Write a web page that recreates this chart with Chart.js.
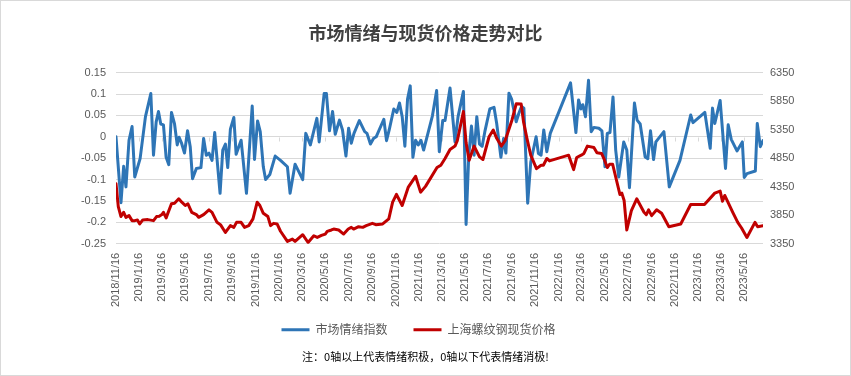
<!DOCTYPE html>
<html>
<head>
<meta charset="utf-8">
<script src="https://cdn.jsdelivr.net/npm/chart.js@4.4.0/dist/chart.umd.min.js"></script>
<style>
html,body{margin:0;padding:0;background:#fff;}
#wrap{width:851px;height:376px;position:relative;}
</style>
</head>
<body>
<div id="wrap"><canvas id="c" width="851" height="376"></canvas></div>
<script>
const titleText = '市场情绪与现货价格走势对比';
const noteText = '注：0轴以上代表情绪积极，0轴以下代表情绪消极!';
const seriesNames = ['市场情绪指数', '上海螺纹钢现货价格'];

const tickLabels = ['2018/11/16','2019/1/16','2019/3/16','2019/5/16','2019/7/16','2019/9/16','2019/11/16',
  '2020/1/16','2020/3/16','2020/5/16','2020/7/16','2020/9/16','2020/11/16',
  '2021/1/16','2021/3/16','2021/5/16','2021/7/16','2021/9/16','2021/11/16',
  '2022/1/16','2022/3/16','2022/5/16','2022/7/16','2022/9/16','2022/11/16',
  '2023/1/16','2023/3/16','2023/5/16'];
const leftTicks = [-0.25,-0.2,-0.15,-0.1,-0.05,0,0.05,0.1,0.15];
const rightTicks = [3350,3850,4350,4850,5350,5850,6350];

const blueDates = ['2018/11/16','2018/11/29','2018/12/6','2018/12/12','2018/12/20','2018/12/28','2019/1/4','2019/1/18','2019/2/1','2019/2/15',
  '2019/2/22','2019/3/1','2019/3/7','2019/3/13','2019/3/20','2019/3/27','2019/4/3','2019/4/10','2019/4/18','2019/4/25',
  '2019/4/30','2019/5/6','2019/5/14','2019/5/22','2019/5/29','2019/6/4','2019/6/14','2019/6/26','2019/7/3','2019/7/10',
  '2019/7/17','2019/7/25','2019/8/1','2019/8/15','2019/8/22','2019/8/29','2019/9/4','2019/9/11','2019/9/20','2019/9/26',
  '2019/10/9','2019/10/23','2019/11/7','2019/11/13','2019/11/21','2019/11/28','2019/12/6','2019/12/12','2019/12/23','2020/1/6',
  '2020/1/20','2020/2/7','2020/2/14','2020/2/27','2020/3/18','2020/3/26','2020/4/7','2020/4/24','2020/4/30','2020/5/13',
  '2020/5/19','2020/5/27','2020/6/4','2020/6/11','2020/6/22','2020/6/30','2020/7/9','2020/7/16','2020/7/23','2020/7/30',
  '2020/8/13','2020/8/27','2020/9/2','2020/9/11','2020/9/19','2020/9/26','2020/10/16','2020/10/23','2020/10/30','2020/11/11',
  '2020/11/19','2020/11/26','2020/12/3','2020/12/10','2020/12/17','2020/12/24','2020/12/31','2021/1/7','2021/1/14','2021/1/21',
  '2021/1/28','2021/2/20','2021/3/3','2021/3/10','2021/3/19','2021/3/25','2021/4/7','2021/4/20','2021/4/28','2021/5/12',
  '2021/5/19','2021/5/26','2021/6/2','2021/6/9','2021/6/16','2021/6/23','2021/6/30','2021/7/7','2021/7/20','2021/7/31',
  '2021/8/7','2021/8/18','2021/8/25','2021/8/31','2021/9/8','2021/9/15','2021/9/27','2021/10/4','2021/10/11','2021/10/17',
  '2021/10/27','2021/11/4','2021/11/18','2021/11/24','2021/12/1','2021/12/8','2021/12/16','2021/12/25','2022/2/16','2022/3/2',
  '2022/3/9','2022/3/15','2022/3/20','2022/3/27','2022/4/4','2022/4/11','2022/4/18','2022/5/1','2022/5/9','2022/5/17',
  '2022/5/23','2022/5/30','2022/6/7','2022/6/14','2022/6/22','2022/7/5','2022/7/13','2022/7/20','2022/8/2','2022/8/9',
  '2022/8/17','2022/8/30','2022/9/6','2022/9/13','2022/9/21','2022/9/27','2022/10/18','2022/11/1','2022/11/29','2022/12/27',
  '2023/1/2','2023/2/2','2023/2/16','2023/2/22','2023/2/28','2023/3/14','2023/3/28','2023/4/4','2023/4/12','2023/4/27',
  '2023/5/11','2023/5/16','2023/5/23','2023/6/14','2023/6/19','2023/6/27','2023/7/4'];
const blueValues = [0.000,-0.154,-0.069,-0.117,-0.008,0.024,-0.094,-0.051,0.047,0.101,
  -0.043,0.035,0.059,0.030,0.028,-0.048,-0.065,0.057,0.030,-0.019,
  -0.001,-0.014,-0.038,0.014,-0.023,-0.098,-0.074,-0.072,-0.004,-0.043,
  -0.038,-0.055,0.010,-0.132,-0.031,-0.017,-0.072,0.018,0.045,-0.041,
  -0.008,-0.132,0.072,-0.053,0.037,0.012,-0.070,-0.100,-0.088,-0.045,
  -0.055,-0.070,-0.132,-0.064,-0.100,0.008,-0.019,0.043,-0.012,0.101,
  0.101,0.014,0.059,0.006,0.039,0.016,-0.045,0.020,-0.015,0.008,
  0.038,0.012,0.008,-0.017,-0.004,0.000,0.041,-0.009,0.016,0.065,
  0.057,0.079,0.047,-0.022,0.088,0.119,-0.048,-0.008,-0.019,-0.008,
  -0.031,0.049,0.108,-0.035,0.038,0.038,0.114,-0.012,0.047,0.106,
  -0.205,-0.043,0.025,-0.043,0.047,-0.017,-0.022,0.012,0.065,0.069,
  0.031,-0.048,-0.004,-0.038,0.102,0.088,0.035,0.055,0.071,0.067,
  -0.155,-0.059,0.000,-0.039,-0.043,0.016,-0.035,0.008,0.126,0.010,
  0.086,0.065,0.075,0.047,0.132,0.012,0.022,0.020,0.014,-0.070,
  0.008,0.010,0.093,-0.031,-0.094,-0.012,-0.031,-0.119,0.079,0.039,
  0.030,-0.047,-0.051,0.014,-0.053,-0.012,0.012,-0.117,-0.055,0.051,
  0.033,0.057,-0.027,0.067,0.031,0.085,-0.074,0.028,-0.006,-0.033,
  -0.012,-0.095,-0.086,-0.080,0.031,-0.023,-0.009];

const redDates = ['2018/11/16','2018/11/22','2018/11/29','2018/12/6','2018/12/12','2018/12/20','2018/12/28','2019/1/4','2019/1/11','2019/1/17',
  '2019/1/25','2019/2/7','2019/2/22','2019/3/2','2019/3/9','2019/3/16','2019/3/20','2019/3/27','2019/4/10','2019/4/18',
  '2019/4/29','2019/5/7','2019/5/16','2019/5/23','2019/6/2','2019/6/14','2019/6/20','2019/7/3','2019/7/17','2019/7/25',
  '2019/8/7','2019/8/16','2019/8/29','2019/9/11','2019/9/20','2019/9/27','2019/10/9','2019/10/18','2019/10/29','2019/11/9',
  '2019/11/20','2019/11/27','2019/12/6','2019/12/18','2019/12/25','2020/1/2','2020/1/11','2020/1/20','2020/2/7','2020/2/20',
  '2020/2/27','2020/3/18','2020/4/1','2020/4/16','2020/4/25','2020/5/6','2020/5/16','2020/5/21','2020/6/1','2020/6/7',
  '2020/6/20','2020/7/3','2020/7/15','2020/7/23','2020/7/29','2020/8/11','2020/8/22','2020/8/31','2020/9/16','2020/9/25',
  '2020/10/13','2020/10/29','2020/11/8','2020/11/18','2020/12/3','2020/12/19','2021/1/7','2021/1/20','2021/2/2','2021/3/4',
  '2021/3/14','2021/3/25','2021/4/7','2021/4/20','2021/4/26','2021/5/12','2021/5/19','2021/5/27','2021/6/9','2021/6/23',
  '2021/7/2','2021/7/18','2021/7/29','2021/8/7','2021/8/19','2021/8/29','2021/9/16','2021/9/27','2021/10/10','2021/10/16',
  '2021/10/25','2021/11/4','2021/11/19','2021/12/1','2021/12/7','2021/12/16','2021/12/23','2022/2/11','2022/2/24','2022/3/4',
  '2022/3/16','2022/3/23','2022/4/1','2022/4/18','2022/4/26','2022/5/8','2022/5/16','2022/5/23','2022/5/29','2022/6/6',
  '2022/6/25','2022/6/30','2022/7/6','2022/7/13','2022/7/25','2022/8/8','2022/8/27','2022/9/2','2022/9/8','2022/9/16',
  '2022/9/29','2022/10/12','2022/10/31','2022/12/1','2022/12/27','2023/2/1','2023/2/28','2023/3/14','2023/3/20','2023/3/26',
  '2023/4/16','2023/4/29','2023/5/9','2023/5/23','2023/6/13','2023/6/20','2023/7/4'];
const redValues = [4404,4003,3827,3902,3814,3844,3756,3756,3768,3698,
  3768,3774,3756,3827,3832,3862,3902,3804,4051,4061,
  4139,4079,4021,4051,3902,3862,3814,3862,3945,3902,
  3726,3685,3549,3668,3638,3726,3726,3638,3668,3786,
  4079,4021,3885,3827,3668,3708,3698,3570,3391,3433,
  3391,3509,3373,3491,3461,3496,3521,3567,3592,3609,
  3592,3521,3609,3638,3609,3650,3638,3668,3708,3685,
  3698,3786,4079,4215,4021,4344,4533,4255,4356,4686,
  4727,4845,5004,5062,5156,5667,5120,4815,5062,4873,
  4827,5226,5344,5198,5062,5156,5521,5803,5798,5491,
  5198,4903,4668,4727,4727,4845,4803,4903,4650,4862,
  4903,4933,5062,5039,4944,4933,4815,4686,4744,4744,
  4215,4238,4109,3592,3932,4139,3902,3862,3945,3844,
  3945,3885,3650,3698,4038,4038,4238,4273,4097,4197,
  3902,3726,3627,3461,3726,3650,3668];

function toDay(s){ const p = s.split('/').map(Number); return Date.UTC(p[0], p[1]-1, p[2]) / 86400000; }
function pts(dates, vals){ const n = Math.min(dates.length, vals.length); const out = []; for (let i=0;i<n;i++) out.push({x: toDay(dates[i]), y: vals[i]}); return out; }
const tickDays = tickLabels.map(toDay);

const CJK = '"Noto Sans CJK SC", "Microsoft YaHei", sans-serif';
const NUM = '"Liberation Sans", Arial, sans-serif';
const GRID = '#d9d9d9';
const TXT = '#595959';

const zeroTicks = {
  id: 'zeroTicks',
  beforeDatasetsDraw(chart){
    const xs = chart.scales.x, ys = chart.scales.y, ctx = chart.ctx;
    const y0 = Math.round(ys.getPixelForValue(0)) + 0.5;
    ctx.save(); ctx.strokeStyle = GRID; ctx.lineWidth = 1; ctx.beginPath();
    tickDays.forEach(d => { const x = Math.round(xs.getPixelForValue(d)) + 0.5; ctx.moveTo(x, y0); ctx.lineTo(x, y0 + 4); });
    ctx.stroke(); ctx.restore();
  }
};
const frame = {
  id: 'frame',
  afterLayout(chart){ const lg = chart.legend; if (lg) { lg.left -= 7; lg.right -= 7; } },
  afterDraw(chart){ const ctx = chart.ctx; ctx.save(); ctx.strokeStyle = GRID; ctx.lineWidth = 1; ctx.strokeRect(0.5, 0.5, chart.width - 1, chart.height - 1); ctx.restore(); }
};

new Chart(document.getElementById('c'), {
  type: 'line',
  data: {
    datasets: [
      { label: seriesNames[0], data: pts(blueDates, blueValues), yAxisID: 'y', borderColor: '#2E75B6', backgroundColor: '#2E75B6', borderWidth: 3, pointRadius: 0, tension: 0, borderJoinStyle: 'round', borderCapStyle: 'round', order: 1 },
      { label: seriesNames[1], data: pts(redDates, redValues), yAxisID: 'y2', borderColor: '#C00000', backgroundColor: '#C00000', borderWidth: 3, pointRadius: 0, tension: 0, borderJoinStyle: 'round', borderCapStyle: 'round', order: 0 }
    ]
  },
  options: {
    responsive: false, animation: false, devicePixelRatio: 1,
    layout: { padding: { left: 0, right: 0, top: 0, bottom: 0 } },
    plugins: {
      tooltip: { enabled: false },
      title: { display: true, text: titleText, color: '#404040', font: { family: CJK, size: 18, weight: 'bold' }, padding: { top: 22, bottom: 29 } },
      subtitle: { display: true, position: 'bottom', text: noteText, color: '#000', font: { family: CJK, size: 11, weight: 'normal' }, padding: { top: 4, bottom: 13 } },
      legend: {
        position: 'bottom',
        labels: {
          boxWidth: 28, boxHeight: 3, padding: 26, color: TXT, font: { family: CJK, size: 12 },
          sort: (a, b) => a.datasetIndex - b.datasetIndex,
          generateLabels: chart => Chart.defaults.plugins.legend.labels.generateLabels(chart).map(l => Object.assign(l, { lineWidth: 0, fillStyle: l.strokeStyle }))
        }
      }
    },
    scales: {
      x: {
        type: 'linear', min: toDay(blueDates[0]), max: toDay(blueDates[blueDates.length - 1]),
        grid: { display: false, drawTicks: false }, border: { display: false },
        afterBuildTicks: s => { s.ticks = tickDays.map(v => ({ value: v })); },
        afterFit: s => { s.height = 54; s._computeLabelArea = () => undefined; },
        ticks: { autoSkip: false, minRotation: 90, maxRotation: 90, padding: 9, color: TXT, font: { family: NUM, size: 11 },
          callback: v => { const i = tickDays.indexOf(v); return i >= 0 ? tickLabels[i] : ''; } }
      },
      y: {
        position: 'left', min: -0.25, max: 0.15,
        afterBuildTicks: s => { s.ticks = leftTicks.map(v => ({ value: v })); },
        afterFit: s => { s.width = 116; },
        grid: { color: GRID, drawTicks: false }, border: { display: false },
        ticks: { padding: 10, color: TXT, font: { family: NUM, size: 11 }, callback: v => String(+Number(v).toFixed(2)) }
      },
      y2: {
        position: 'right', min: 3350, max: 6350,
        afterBuildTicks: s => { s.ticks = rightTicks.map(v => ({ value: v })); },
        afterFit: s => { s.width = 88; },
        grid: { display: false, drawTicks: false }, border: { display: false },
        ticks: { padding: 7, color: TXT, font: { family: NUM, size: 11 }, callback: v => String(v) }
      }
    }
  },
  plugins: [zeroTicks, frame]
});
</script>
</body>
</html>
